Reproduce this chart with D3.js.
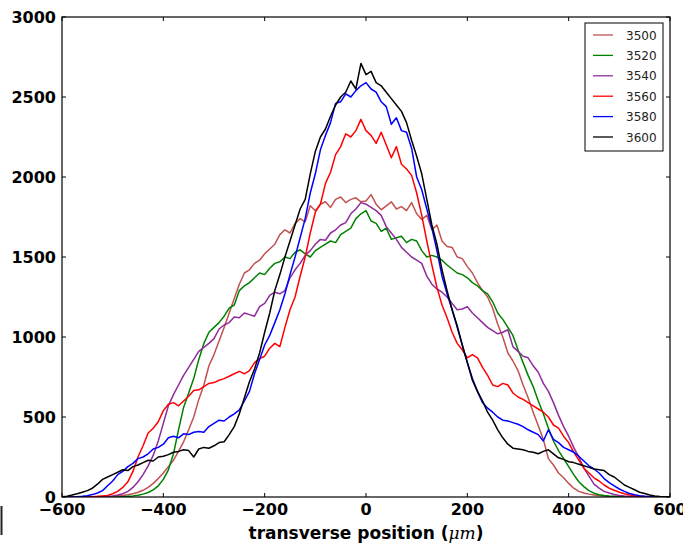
<!DOCTYPE html>
<html>
<head>
<meta charset="utf-8">
<script src="https://cdn.jsdelivr.net/npm/d3@7"></script>
<style>
  body { margin: 0; background: #fff; }
  svg { display: block; font-family: "DejaVu Sans", sans-serif; }
</style>
</head>
<body>
<div id="chart"></div>
<script>
// transverse positions (um), 10 um steps
const positions = d3.range(-600, 601, 10);

const seriesNames = ["3500", "3520", "3540", "3560", "3580", "3600"];
const seriesColors = ["#c05252", "#008000", "#8e2c9c", "#ff0000", "#0000ff", "#000000"];

const s3500 = [0,0,0,0,0,0,0,0,
  2,3,5,8,10,14,20,30,42,60,85,115,150,190,230,285,345,420,500,610,700,820,890,975,1060,1150,1240,1330,1400,1420,1460,1480,1520,1550,1580,1640,1670,1650,1710,1740,1720,1820,1790,1830,1845,1810,1860,1875,1840,1860,1870,1845,
  1850,1890,1830,1795,1820,1845,1800,1815,1790,1840,1770,1735,1760,1670,1700,1600,1565,1560,1500,1490,1440,1400,1340,1290,1250,1180,1080,1000,900,850,790,700,620,530,445,360,240,200,150,120,85,55,35,25,18,13,10,6,3,2,
  0,0,0,0,0,0,0,0,0,0,0];

const s3520 = [0,0,0,0,0,0,0,0,0,0,0,0,
  2,4,7,11,18,28,45,70,110,170,270,420,560,650,740,860,960,1030,1060,1090,1130,1180,1200,1290,1320,1340,1370,1400,1390,1430,1460,1470,1500,1490,1530,1545,1520,1500,1540,1560,1580,1600,1590,1640,1660,1680,1740,1770,
  1790,1725,1710,1660,1680,1610,1620,1630,1590,1610,1600,1540,1500,1510,1500,1480,1450,1425,1400,1390,1370,1340,1320,1290,1270,1220,1150,1110,1060,1010,920,840,760,690,600,520,430,350,290,240,190,140,95,65,40,24,14,9,6,4,2,1,
  0,0,0,0,0,0,0,0,0];

const s3540 = [0,0,0,0,0,0,0,0,
  2,4,7,12,20,35,60,95,140,195,260,350,460,570,640,700,760,810,860,910,935,960,990,1050,1075,1090,1125,1120,1150,1140,1130,1190,1210,1260,1280,1270,1290,1370,1420,1460,1510,1540,1580,1610,1605,1650,1670,1700,1715,1770,1800,1840,
  1830,1810,1790,1760,1690,1650,1610,1560,1530,1500,1480,1460,1380,1330,1300,1280,1250,1210,1170,1175,1190,1150,1120,1090,1060,1040,1020,1030,1045,940,910,880,870,820,780,710,660,590,510,440,380,310,250,180,130,80,55,35,25,16,10,6,3,1,
  0,0,0,0,0,0,0];

const s3560 = [0,0,0,0,0,0,
  2,4,7,10,20,35,60,95,160,250,320,400,430,470,540,580,590,570,600,630,665,670,690,710,715,730,740,755,770,785,770,790,840,865,880,930,960,940,1060,1170,1250,1380,1500,1650,1780,1830,1960,2030,2140,2190,2270,2250,2290,2360,
  2290,2260,2210,2280,2200,2120,2190,2080,2050,2010,1900,1760,1600,1450,1310,1200,1120,1030,960,920,870,890,870,810,760,700,690,710,700,650,625,610,590,570,550,530,500,450,430,380,340,280,230,180,150,120,100,75,55,42,30,20,12,8,5,3,1,
  0,0,0];

const s3580 = [0,0,0,2,4,8,15,25,40,70,100,140,160,190,210,240,250,270,300,310,330,370,380,370,395,390,405,410,405,440,460,480,475,500,520,545,600,660,770,860,950,1010,1090,1170,1270,1390,1500,1620,1740,1900,2020,2170,2260,2340,2460,2470,2520,2500,2540,2570,
  2590,2550,2530,2470,2440,2330,2370,2290,2280,2180,2000,1920,1800,1680,1540,1380,1270,1170,1060,950,840,740,660,590,555,530,500,480,475,465,455,440,420,405,390,350,420,360,340,310,295,280,255,225,195,175,150,115,90,70,50,35,22,14,8,4,2,1,0,0,0];

const s3600 = [2,5,12,20,30,40,55,80,110,125,140,155,170,165,190,200,215,230,225,250,255,265,280,285,295,290,250,300,310,305,320,340,345,390,440,520,620,720,800,900,1030,1150,1290,1390,1500,1600,1700,1800,1860,2020,2160,2250,2300,2380,2450,2500,2530,2600,2550,2710,
  2640,2660,2590,2570,2530,2490,2450,2410,2340,2230,2130,2020,1860,1700,1580,1420,1290,1170,1070,950,840,730,660,600,530,480,420,370,330,305,300,295,285,280,270,285,295,270,245,235,220,215,205,195,185,175,170,165,140,125,100,75,60,45,30,22,12,6,3,1,0];

const seriesValues = [s3500, s3520, s3540, s3560, s3580, s3600];

const xTicks = [-600, -400, -200, 0, 200, 400, 600];
const yTicks = [0, 500, 1000, 1500, 2000, 2500, 3000];

const width = 683, height = 543;
const margin = {left: 62, right: 13, top: 17, bottom: 46};

const svg = d3.select("#chart").append("svg")
    .attr("width", width)
    .attr("height", height);

const x = d3.scaleLinear().domain([-600, 600]).range([margin.left, width - margin.right]);
const y = d3.scaleLinear().domain([0, 3000]).range([height - margin.bottom, margin.top]);

// lines, clipped to the axes
svg.append("clipPath").attr("id", "clip")
  .append("rect")
    .attr("x", margin.left).attr("y", margin.top)
    .attr("width", x(600) - x(-600)).attr("height", y(0) - y(3000));

const line = d3.line()
    .x((d, i) => x(positions[i]))
    .y(d => y(d));

svg.append("g").attr("clip-path", "url(#clip)")
  .selectAll("path")
  .data(seriesValues)
  .join("path")
    .attr("d", line)
    .attr("fill", "none")
    .attr("stroke", (d, i) => seriesColors[i])
    .attr("stroke-width", 1.5)
    .attr("stroke-linejoin", "round");

// inward ticks on all four sides (classic matplotlib look)
const tickLen = 4;
const ticks = svg.append("g").attr("stroke", "#000").attr("stroke-width", 1);
xTicks.forEach(t => {
  ticks.append("line").attr("x1", x(t)).attr("x2", x(t)).attr("y1", y(0)).attr("y2", y(0) - tickLen);
  ticks.append("line").attr("x1", x(t)).attr("x2", x(t)).attr("y1", y(3000)).attr("y2", y(3000) + tickLen);
});
yTicks.forEach(t => {
  ticks.append("line").attr("x1", x(-600)).attr("x2", x(-600) + tickLen).attr("y1", y(t)).attr("y2", y(t));
  ticks.append("line").attr("x1", x(600)).attr("x2", x(600) - tickLen).attr("y1", y(t)).attr("y2", y(t));
});

// frame
svg.append("rect")
    .attr("x", x(-600)).attr("y", y(3000))
    .attr("width", x(600) - x(-600)).attr("height", y(0) - y(3000))
    .attr("fill", "none").attr("stroke", "#000").attr("stroke-width", 1.2);

// tick labels
svg.append("g").selectAll("text")
  .data(xTicks)
  .join("text")
    .attr("x", d => x(d))
    .attr("y", y(0) + 18)
    .attr("text-anchor", "middle")
    .attr("font-size", 16)
    .attr("font-weight", "bold")
    .text(d => d < 0 ? "\u2212" + Math.abs(d) : d);

svg.append("g").selectAll("text")
  .data(yTicks)
  .join("text")
    .attr("x", x(-600) - 6)
    .attr("y", d => y(d) + 6)
    .attr("text-anchor", "end")
    .attr("font-size", 16)
    .attr("font-weight", "bold")
    .text(d => d);

// x axis title
const title = svg.append("text")
    .attr("x", x(0))
    .attr("y", 539)
    .attr("text-anchor", "middle")
    .attr("font-size", 17)
    .attr("font-weight", "bold");
title.append("tspan").text("transverse position (");
title.append("tspan").attr("font-family", "'DejaVu Serif', serif").attr("font-style", "italic")
    .attr("font-weight", "normal").text("\u03bcm");
title.append("tspan").text(")");

// legend
const legend = svg.append("g").attr("transform", "translate(585,23)");
legend.append("rect")
    .attr("width", 78).attr("height", 128)
    .attr("fill", "#fff").attr("stroke", "#000").attr("stroke-width", 1);
seriesNames.forEach((name, i) => {
  const ly = 12 + i * 20.4;
  legend.append("line")
      .attr("x1", 8).attr("x2", 28).attr("y1", ly).attr("y2", ly)
      .attr("stroke", seriesColors[i]).attr("stroke-width", 1.3);
  legend.append("text")
      .attr("x", 41).attr("y", ly + 4.5)
      .attr("font-size", 12)
      .attr("fill", "#222")
      .text(name);
});

// small cursor mark at the bottom left of the screenshot
svg.append("line")
    .attr("x1", 1.5).attr("x2", 1.5).attr("y1", 506).attr("y2", 535)
    .attr("stroke", "#222").attr("stroke-width", 2);
</script>
</body>
</html>
